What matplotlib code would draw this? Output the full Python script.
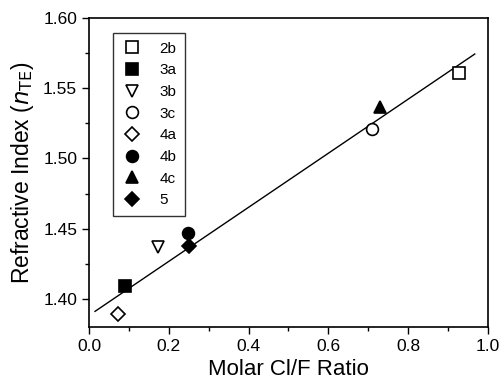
import numpy as np
import matplotlib
matplotlib.use("Agg")
from matplotlib import pyplot as plt
from matplotlib.ticker import MultipleLocator

plt.rcParams["font.family"] = ["Liberation Sans", "DejaVu Sans"]

labels = ["2b", "3a", "3b", "3c", "4a", "4b", "4c", "5"]
cl_f_ratio = [0.927, 0.089, 0.174, 0.709, 0.072, 0.249, 0.729, 0.251]
n_te = [1.5606, 1.4095, 1.4368, 1.521, 1.389, 1.4468, 1.5364, 1.438]
markers = ["s", "s", "v", "o", "D", "o", "^", "D"]
filled = [False, True, False, False, False, True, True, True]
sizes = [8, 8, 9, 8.5, 7, 8.5, 9, 7]

fit_range = [0.015, 0.967]
fit_slope = 0.1924
fit_intercept = 1.3883

fig = plt.figure(figsize=(5.03, 3.83), dpi=100)
ax = fig.add_axes([0.177, 0.146, 0.793, 0.807])

fx = np.array(fit_range)
ax.plot(fx, fit_intercept + fit_slope * fx, color="black", linewidth=1.0, zorder=2)

for lab, x, y, m, f, s in zip(labels, cl_f_ratio, n_te, markers, filled, sizes):
    ax.plot(x, y, linestyle="none", marker=m, markersize=s,
            markerfacecolor="black" if f else "white",
            markeredgecolor="black", markeredgewidth=1.2,
            label=lab, zorder=3)

ax.set_xlim(0.0, 1.0)
ax.set_ylim(1.38, 1.60)
ax.xaxis.set_major_locator(MultipleLocator(0.2))
ax.xaxis.set_minor_locator(MultipleLocator(0.1))
ax.yaxis.set_major_locator(MultipleLocator(0.05))
ax.yaxis.set_minor_locator(MultipleLocator(0.025))
ax.xaxis.set_major_formatter(lambda v, p: f"{v:.1f}")
ax.yaxis.set_major_formatter(lambda v, p: f"{v:.2f}")
ax.tick_params(which="both", direction="out", labelsize=12.5, top=False, right=False)
ax.tick_params(which="major", length=5, width=1)
ax.tick_params(which="minor", length=3, width=1)
for spine in ax.spines.values():
    spine.set_linewidth(1.2)

ax.set_xlabel("Molar Cl/F Ratio", fontsize=16)
ax.set_ylabel(r"Refractive Index ($n_{\mathrm{TE}}$)", fontsize=16.5, labelpad=5)

leg = ax.legend(loc="upper left", bbox_to_anchor=(0.04, 0.975), fontsize=11,
                frameon=True, fancybox=False, edgecolor="black",
                handletextpad=1.1, labelspacing=0.5, borderpad=0.55,
                handlelength=1.4)
leg.get_frame().set_linewidth(1.0)

fig.savefig("out.png", dpi=100)
